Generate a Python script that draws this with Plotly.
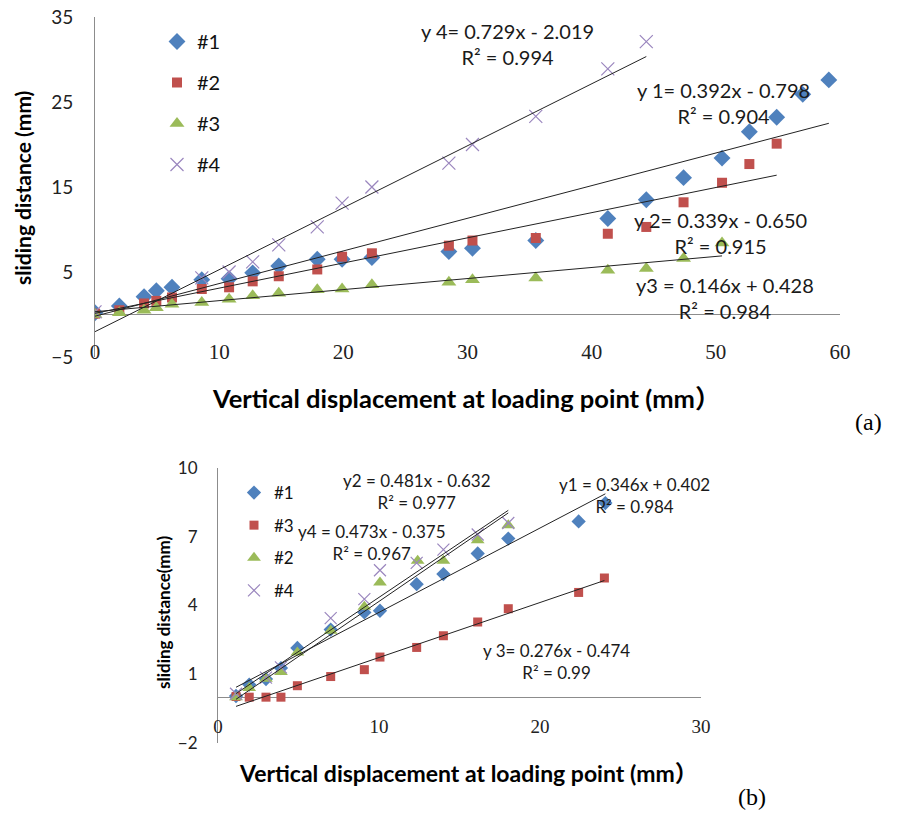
import plotly.graph_objects as go

W, H = 912, 814

# ---------------- (a) data ----------------
a_x1 = [0, 1.96, 3.95, 4.94, 6.2, 8.6, 10.8, 12.7, 14.8, 17.9, 19.9, 22.3, 28.5, 30.4, 35.5, 41.3, 44.4, 47.4, 50.5, 52.7, 54.9, 57.0, 59.1]
a_y1 = [0.2, 1.0, 2.1, 2.8, 3.2, 4.1, 4.2, 4.9, 5.7, 6.5, 6.5, 6.7, 7.4, 7.8, 8.7, 11.3, 13.5, 16.1, 18.4, 21.5, 23.2, 25.9, 27.6]
a_x2 = [0, 1.96, 3.95, 4.94, 6.2, 8.6, 10.8, 12.7, 14.8, 17.9, 19.9, 22.3, 28.5, 30.4, 35.5, 41.3, 44.4, 47.4, 50.5, 52.7, 54.9]
a_y2 = [0.1, 0.5, 1.3, 1.6, 2.0, 3.0, 3.2, 3.9, 4.5, 5.3, 6.8, 7.2, 8.1, 8.7, 9.0, 9.5, 10.3, 13.2, 15.5, 17.7, 20.1]
a_x3 = [0, 1.96, 3.95, 4.94, 6.2, 8.6, 10.8, 12.7, 14.8, 17.9, 19.9, 22.3, 28.5, 30.4, 35.5, 41.3, 44.4, 47.4, 50.5]
a_y3 = [0.0, 0.2, 0.5, 0.8, 1.2, 1.4, 1.8, 2.2, 2.5, 2.9, 3.0, 3.5, 3.8, 4.1, 4.3, 5.2, 5.4, 6.6, 8.4]
a_x4 = [0, 8.6, 10.8, 12.7, 14.8, 17.9, 19.9, 22.3, 28.5, 30.4, 35.5, 41.3, 44.4]
a_y4 = [0.3, 4.3, 5.0, 6.2, 8.2, 10.3, 13.1, 15.0, 17.8, 20.0, 23.3, 28.9, 32.1]
a_names = ["#1", "#2", "#3", "#4"]
a_fit_slope = [0.384, 0.296, 0.130, 0.729]
a_fit_icpt = [-0.2, 0.14, 0.33, -2.019]
a_labels = ["y 1= 0.392x - 0.798<br>R² = 0.904",
            "y 2= 0.339x - 0.650<br>R² = 0.915",
            "y3 = 0.146x + 0.428<br>R² = 0.984",
            "y 4= 0.729x - 2.019<br>R² = 0.994"]

# ---------------- (b) data ----------------
b_x1 = [1.12, 1.94, 2.98, 3.91, 4.93, 7.0, 9.09, 10.06, 12.34, 14.0, 16.13, 18.03, 22.4, 24.06]
b_y1 = [0.05, 0.55, 0.79, 1.27, 2.15, 2.95, 3.7, 3.77, 4.93, 5.37, 6.27, 6.92, 7.67, 8.47]
b_x3 = [1.12, 1.94, 2.98, 3.91, 4.93, 7.0, 9.09, 10.06, 12.34, 14.0, 16.13, 18.03, 22.4, 24.0]
b_y3 = [0.03, 0.0, 0.0, 0.0, 0.5, 0.9, 1.2, 1.75, 2.17, 2.68, 3.28, 3.86, 4.57, 5.2]
b_x2 = [1.12, 1.94, 2.98, 3.91, 4.93, 7.0, 9.09, 10.06, 12.4, 14.0, 16.13, 18.03]
b_y2 = [0.0, 0.4, 0.8, 1.1, 1.95, 2.9, 3.95, 5.0, 5.95, 5.95, 6.85, 7.5]
b_x4 = [1.12, 2.98, 3.91, 7.0, 9.09, 10.06, 12.34, 14.0, 16.13, 18.03]
b_y4 = [0.15, 0.85, 1.3, 3.45, 4.28, 5.54, 5.86, 6.44, 7.1, 7.6]
b_names = ["#1", "#3", "#2", "#4"]
b_fit_slope = [0.368, 0.24, 0.481, 0.473]
b_fit_icpt = [0.02, -0.67, -0.632, -0.375]
b_labels = ["y1 = 0.346x + 0.402<br>R² = 0.984",
            "y 3= 0.276x - 0.474<br>R² = 0.99",
            "y2 = 0.481x - 0.632<br>R² = 0.977",
            "y4 = 0.473x - 0.375<br>R² = 0.967"]

# ---------------- styles ----------------
SANS = "Lato, 'Noto Sans CJK SC', sans-serif"
SERIF = "'Liberation Serif', 'DejaVu Serif', serif"
blue, red, green, purple = "#4F81BD", "#C0504D", "#9BBB59", "#9A86BE"
axcol = "#8C8C8C"

def px(x):
    return x / W

def py(y):
    return 1 - y / H

styles_a = [
    dict(symbol="diamond", size=13, color=blue),
    dict(symbol="square", size=10, color=red),
    dict(symbol="triangle-up", size=13, color=green),
    dict(symbol="x-thin-open", size=13, color=purple, line=dict(color=purple, width=1.2)),
]
styles_b = [
    dict(symbol="diamond", size=11, color=blue),
    dict(symbol="square", size=9, color=red),
    dict(symbol="triangle-up", size=12, color=green),
    dict(symbol="x-thin-open", size=12, color=purple, line=dict(color=purple, width=1.2)),
]

fig = go.Figure()

a_series = [(a_x1, a_y1), (a_x2, a_y2), (a_x3, a_y3), (a_x4, a_y4)]
for i, (xs, ys) in enumerate(a_series):
    fig.add_trace(go.Scatter(x=xs, y=ys, mode="markers", name=a_names[i],
                             marker=styles_a[i], xaxis="x", yaxis="y",
                             legend="legend", legendgroup="a" + str(i)))
for i, (xs, ys) in enumerate(a_series):
    x0, x1 = min(xs), max(xs)
    fig.add_trace(go.Scatter(x=[x0, x1],
                             y=[a_fit_slope[i] * x0 + a_fit_icpt[i], a_fit_slope[i] * x1 + a_fit_icpt[i]],
                             mode="lines", line=dict(color="#222222", width=1),
                             showlegend=False, xaxis="x", yaxis="y", hoverinfo="skip"))

b_series = [(b_x1, b_y1), (b_x3, b_y3), (b_x2, b_y2), (b_x4, b_y4)]
for i, (xs, ys) in enumerate(b_series):
    fig.add_trace(go.Scatter(x=xs, y=ys, mode="markers", name=b_names[i],
                             marker=styles_b[i], xaxis="x2", yaxis="y2",
                             legend="legend2", legendgroup="b" + str(i)))
for i, (xs, ys) in enumerate(b_series):
    x0, x1 = min(xs), max(xs)
    fig.add_trace(go.Scatter(x=[x0, x1],
                             y=[b_fit_slope[i] * x0 + b_fit_icpt[i], b_fit_slope[i] * x1 + b_fit_icpt[i]],
                             mode="lines", line=dict(color="#222222", width=1),
                             showlegend=False, xaxis="x2", yaxis="y2", hoverinfo="skip"))

# annotation positions (paper px)
a_ann_pos = [(723, 103), (720, 233), (725, 298), (507, 44)]
b_ann_pos = [(634, 495), (556, 661), (417, 491), (372, 542)]

annotations = []
for (cx, cy), t in zip(a_ann_pos, a_labels):
    annotations.append(dict(x=px(cx), y=py(cy), xref="paper", yref="paper", text=t,
                             showarrow=False, font=dict(family=SANS, size=20, color="#1a1a1a"),
                             xanchor="center", yanchor="middle", align="center"))
for (cx, cy), t in zip(b_ann_pos, b_labels):
    annotations.append(dict(x=px(cx), y=py(cy), xref="paper", yref="paper", text=t,
                             showarrow=False, font=dict(family=SANS, size=17, color="#1a1a1a"),
                             xanchor="center", yanchor="middle", align="center"))

title_txt = "Vertical displacement at loading point (mm）"
annotations += [
    dict(x=px(466), y=py(398), xref="paper", yref="paper", text="<b>" + title_txt + "</b>",
         showarrow=False, font=dict(family=SANS, size=25.5, color="black"), xanchor="center", yanchor="middle"),
    dict(x=px(22), y=py(188), xref="paper", yref="paper", text="<b>sliding distance (mm)</b>",
         showarrow=False, textangle=-90, font=dict(family=SANS, size=21, color="black"),
         xanchor="center", yanchor="middle"),
    dict(x=px(868), y=py(422), xref="paper", yref="paper", text="(a)",
         showarrow=False, font=dict(family=SERIF, size=24, color="black"), xanchor="center", yanchor="middle"),
    dict(x=px(468), y=py(773), xref="paper", yref="paper", text="<b>" + title_txt + "</b>",
         showarrow=False, font=dict(family=SANS, size=23, color="black"), xanchor="center", yanchor="middle"),
    dict(x=px(163), y=py(612), xref="paper", yref="paper", text="<b>sliding distance(mm)</b>",
         showarrow=False, textangle=-90, font=dict(family=SANS, size=17, color="black"),
         xanchor="center", yanchor="middle"),
    dict(x=px(752), y=py(797), xref="paper", yref="paper", text="(b)",
         showarrow=False, font=dict(family=SERIF, size=24, color="black"), xanchor="center", yanchor="middle"),
]

fig.update_layout(
    width=W, height=H,
    margin=dict(l=0, r=0, t=0, b=0, autoexpand=False),
    paper_bgcolor="white", plot_bgcolor="white",
    showlegend=True,
    annotations=annotations,
    xaxis=dict(domain=[px(95), px(840)], range=[0, 60], dtick=10, tick0=0, automargin=False,
               anchor="free", position=py(337), showline=False, showgrid=False, zeroline=False,
               ticks="", tickfont=dict(family=SERIF, size=21, color="#222")),
    yaxis=dict(domain=[py(357), py(17)], range=[-5, 35], dtick=10, tick0=-5, automargin=False,
               anchor="x", showline=True, linecolor=axcol, linewidth=1, showgrid=False,
               zeroline=True, zerolinecolor=axcol, zerolinewidth=1,
               ticks="outside", ticklen=17, tickcolor="rgba(0,0,0,0)",
               tickfont=dict(family=SANS, size=19, color="#222")),
    xaxis2=dict(domain=[px(218), px(701)], range=[0, 30], dtick=10, tick0=0, automargin=False,
                anchor="free", position=py(713), showline=False, showgrid=False, zeroline=False,
                ticks="", tickfont=dict(family=SERIF, size=19, color="#222")),
    yaxis2=dict(domain=[py(743), py(468)], range=[-2, 10], dtick=3, tick0=-2, automargin=False,
                anchor="x2", showline=True, linecolor=axcol, linewidth=1, showgrid=False,
                zeroline=True, zerolinecolor=axcol, zerolinewidth=1,
                ticks="outside", ticklen=16, tickcolor="rgba(0,0,0,0)",
                tickfont=dict(family=SANS, size=17, color="#222")),
    legend=dict(x=px(157), y=py(22), xanchor="left", yanchor="top", bgcolor="rgba(0,0,0,0)",
                font=dict(family=SANS, size=20, color="#111"), tracegroupgap=12, itemwidth=30),
    legend2=dict(x=px(234), y=py(475), xanchor="left", yanchor="top", bgcolor="rgba(0,0,0,0)",
                 font=dict(family=SANS, size=17, color="#111"), tracegroupgap=7.5, itemwidth=30),
)

fig.write_html("out.html", config={"displayModeBar": False},
               post_script="document.body.style.margin='0';document.body.style.overflow='hidden';")
